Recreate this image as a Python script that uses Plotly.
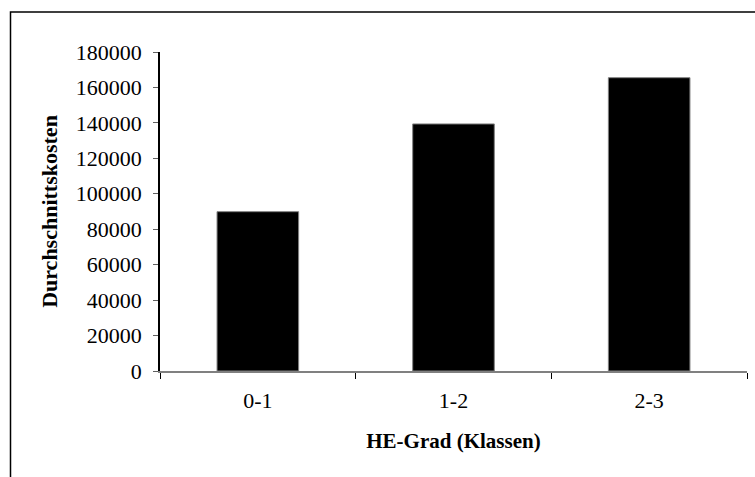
import plotly.graph_objects as go

categories = ["0-1", "1-2", "2-3"]
values = [89900, 139400, 165500]
y_ticks = [0, 20000, 40000, 60000, 80000, 100000, 120000, 140000, 160000, 180000]

FONT = "Liberation Serif"

fig = go.Figure()
fig.add_trace(go.Bar(
    x=categories, y=values,
    marker=dict(color="black", line=dict(color="#808080", width=1)),
    width=0.417,
))

W, H = 755, 477
L, R, T, B = 160, 8, 52, 106
pw = W - L - R
ph = H - T - B

def px2x(px):
    return (px - L) / pw

def py2y(py):
    return (H - B - py) / ph

fig.add_shape(type="rect", xref="paper", yref="paper",
              x0=px2x(10.5), x1=px2x(770), y0=py2y(490), y1=py2y(12),
              line=dict(color="black", width=1.5), fillcolor="rgba(0,0,0,0)", layer="below")

fig.update_layout(
    width=W, height=H,
    margin=dict(l=L, r=R, t=T, b=B, pad=0, autoexpand=False),
    paper_bgcolor="white", plot_bgcolor="white",
    showlegend=False,
    font=dict(family=FONT, color="black", size=22),
    xaxis=dict(
        type="category",
        showline=True, linecolor="#808080", linewidth=1.5,
        ticks="outside", tickson="boundaries", ticklen=6, tickcolor="black", tickwidth=1,
        showgrid=False, zeroline=False,
        tickfont=dict(family=FONT, size=22),
        ticklabelstandoff=9,
        title=dict(text="<b>HE-Grad (Klassen)</b>", font=dict(family=FONT, size=21), standoff=21),
    ),
    yaxis=dict(
        range=[0, 180000], tickvals=y_ticks, ticktext=[str(v) for v in y_ticks],
        showline=True, linecolor="black", linewidth=1.5,
        ticks="outside", ticklen=5, tickcolor="#606060", tickwidth=1,
        showgrid=False, zeroline=False,
        tickfont=dict(family=FONT, size=22),
        ticklabelstandoff=7,
        title=dict(text="<b>Durchschnittskosten</b>", font=dict(family=FONT, size=22), standoff=12),
    ),
)

fig.write_html("out.html", config={"displayModeBar": False},
               post_script="document.body.style.margin='0';document.body.style.padding='0';")
